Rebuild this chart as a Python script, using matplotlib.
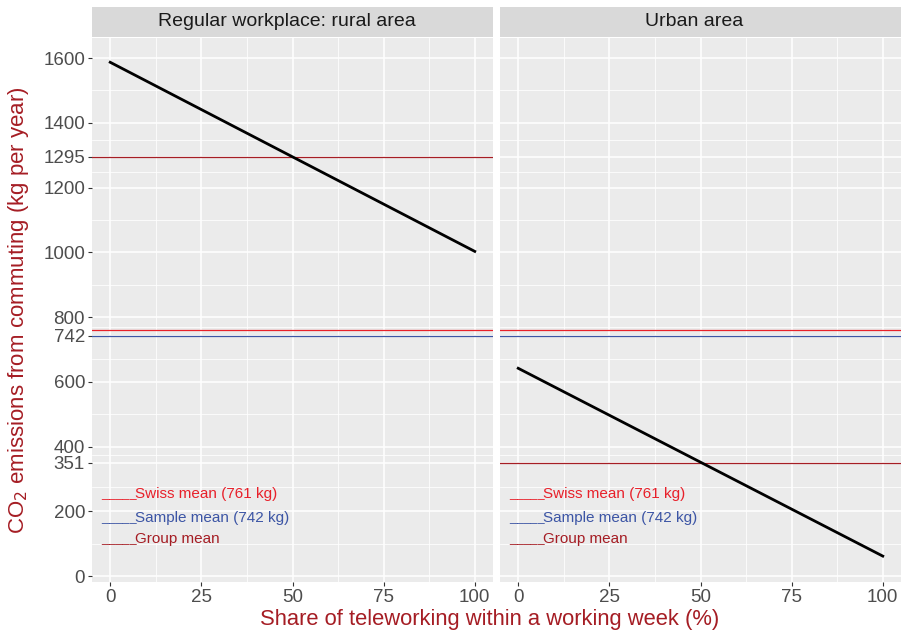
import numpy as np
import matplotlib.pyplot as plt
from matplotlib.ticker import FixedLocator

plt.rcParams['font.family'] = ['Liberation Sans', 'DejaVu Sans']

# Data
panels = ["Regular workplace: rural area", "Urban area"]
share = [0, 100]
emissions_rural = [1587, 1003]
emissions_urban = [642, 62]
group_means = [1295, 351]
swiss_mean = 761
sample_mean = 742
x_ticks = [0, 25, 50, 75, 100]
y_ticks = [0, 200, 351, 400, 600, 742, 800, 1000, 1200, 1295, 1400, 1600]

DARKRED = '#A51D24'
RED = '#E8202A'
BLUE = '#3C55A5'
W, H = 902, 637

fig = plt.figure(figsize=(W / 100, H / 100), dpi=100)

def px_axes(x0, y0, x1, y1):
    return fig.add_axes([x0 / W, 1 - y1 / H, (x1 - x0) / W, (y1 - y0) / H])

series = [emissions_rural, emissions_urban]
minor_y = [(a + b) / 2 for a, b in zip(y_ticks[:-1], y_ticks[1:])]

for i, (title, vals, gm) in enumerate(zip(panels, series, group_means)):
    x0 = 92 if i == 0 else 500
    x1 = 493 if i == 0 else 901
    ax = px_axes(x0, 38, x1, 582)
    ax.set_facecolor('#EBEBEB')
    for s in ax.spines.values():
        s.set_visible(False)
    ax.set_xlim(-5, 105)
    ax.set_ylim(-18, 1662)
    ax.xaxis.set_major_locator(FixedLocator(x_ticks))
    ax.xaxis.set_minor_locator(FixedLocator([12.5, 37.5, 62.5, 87.5]))
    ax.yaxis.set_major_locator(FixedLocator(y_ticks))
    ax.yaxis.set_minor_locator(FixedLocator(minor_y))
    ax.grid(which='major', color='white', linewidth=1.1)
    ax.grid(which='minor', color='white', linewidth=0.55)
    ax.set_axisbelow(True)
    ax.tick_params(which='minor', length=0)
    ax.tick_params(which='major', length=3, color='#333333', labelcolor='#4D4D4D',
                   labelsize=13.5, pad=2)
    if i > 0:
        ax.tick_params(axis='y', which='major', length=0, labelleft=False)

    ax.axhline(swiss_mean, color=RED, linewidth=0.9)
    ax.axhline(sample_mean, color=BLUE, linewidth=0.9)
    ax.axhline(gm, color=DARKRED, linewidth=0.9)
    ax.plot(share, vals, color='black', linewidth=2)

    # pseudo legend drawn as text inside each panel
    ax.text(-2.5, 253, "_____", color=RED, fontsize=9.2, va='center')
    ax.text(6.8, 253, "Swiss mean (761 kg)", color=RED, fontsize=11, va='center')
    ax.text(-2.5, 179, "_____", color=BLUE, fontsize=9.2, va='center')
    ax.text(6.8, 179, "Sample mean (742 kg)", color=BLUE, fontsize=11, va='center')
    ax.text(-2.5, 114, "_____", color=DARKRED, fontsize=9.2, va='center')
    ax.text(6.8, 114, "Group mean", color=DARKRED, fontsize=11, va='center')

    strip = px_axes(x0, 7, x1, 37)
    strip.set_facecolor('#D9D9D9')
    strip.set_xticks([])
    strip.set_yticks([])
    for s in strip.spines.values():
        s.set_visible(False)
    strip.text(0.485, 0.5, title, ha='center', va='center', fontsize=14, color='#1A1A1A',
               transform=strip.transAxes)

fig.text(490 / W, 1 - 620 / H, "Share of teleworking within a working week (%)",
         ha='center', va='center', color=DARKRED, fontsize=15.8)
fig.text(19 / W, 1 - 310 / H, "CO$_2$ emissions from commuting (kg per year)",
         ha='center', va='center', rotation=90, color=DARKRED, fontsize=16)

fig.savefig('out.png', dpi=100)
